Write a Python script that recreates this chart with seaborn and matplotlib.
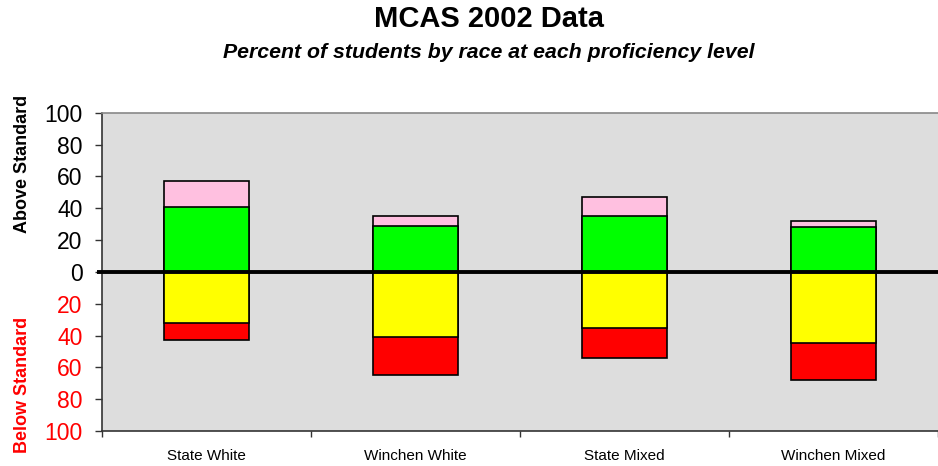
import matplotlib
matplotlib.use("Agg")
import matplotlib.pyplot as plt
import matplotlib.transforms as mtransforms
import seaborn as sns
import numpy as np
import pandas as pd

categories = ["State White", "Winchen White", "State Mixed", "Winchen Mixed"]
proficient = [41, 29, 35, 28]       # green
advanced = [16, 6, 12, 4]           # pink
needs_improvement = [32, 41, 35, 45]  # yellow
warning = [11, 24, 19, 23]          # red

sns.set_style("white")
plt.rcParams['font.family'] = ['Liberation Sans', 'DejaVu Sans']
plt.rcParams['text.color'] = 'black'
plt.rcParams['xtick.color'] = 'black'
plt.rcParams['ytick.color'] = 'black'

fig = plt.figure(figsize=(9.38, 4.66), dpi=100)
ax = fig.add_axes([0.1087, 0.0751, 0.8913, 0.683])
ax.set_facecolor("#DDDDDD")

above_total = [p + a for p, a in zip(proficient, advanced)]
below_total = [-(n + w) for n, w in zip(needs_improvement, warning)]
below_ni = [-n for n in needs_improvement]

bw = 0.41
kw = dict(width=bw, edgecolor="black", linewidth=1.2, ax=ax, saturation=1)
sns.barplot(x=categories, y=above_total, color="#FFC0E0", **kw)
sns.barplot(x=categories, y=proficient, color="#00FF00", **kw)
sns.barplot(x=categories, y=below_total, color="#FF0000", **kw)
sns.barplot(x=categories, y=below_ni, color="#FFFF00", **kw)

ax.set_xlim(-0.5, 3.5)
ax.set_ylim(-100, 100)

# zero line, extending slightly left of the axis
trans = mtransforms.blended_transform_factory(ax.transAxes, ax.transData)
ax.plot([-0.006, 1.0], [0, 0], color="black", lw=2.8, transform=trans,
        clip_on=False, zorder=5, solid_capstyle="butt")

yt = list(range(-100, 101, 20))
ax.set_yticks(yt)
ax.set_yticklabels([str(abs(v)) for v in yt], fontsize=16.5)
for lab, v in zip(ax.get_yticklabels(), yt):
    lab.set_color("red" if v < 0 else "black")
ax.tick_params(axis="y", which="major", direction="out", length=5, width=1,
               color="#333333", left=True, pad=9)

ax.set_xticks([-0.5, 0.5, 1.5, 2.5, 3.5])
ax.set_xticklabels([])
ax.set_xticks([0, 1, 2, 3], minor=True)
ax.set_xticklabels(categories, minor=True, fontsize=11)
ax.tick_params(axis="x", which="major", direction="out", length=4, width=1,
               color="#333333", bottom=True)
ax.tick_params(axis="x", which="minor", length=0, pad=13)
ax.set_xlabel("")

for side in ["left", "bottom"]:
    ax.spines[side].set_color("#333333")
    ax.spines[side].set_linewidth(1.2)
ax.spines["top"].set_color("#888888")
ax.spines["top"].set_linewidth(1.2)
ax.spines["right"].set_visible(False)

fig.text(0.024, 1 - 164 / 466, "Above Standard", rotation=90, ha="center",
         va="center", fontsize=13, fontweight="bold", color="black")
fig.text(0.024, 1 - 385 / 466, "Below Standard", rotation=90, ha="center",
         va="center", fontsize=13, fontweight="bold", color="red")

fig.text(0.521, 1 - 19 / 466, "MCAS 2002 Data", ha="center", va="center",
         fontsize=21, fontweight="bold", color="black")
fig.text(0.521, 1 - 52 / 466, "Percent of students by race at each proficiency level",
         ha="center", va="center", fontsize=15.3, fontweight="bold", style="italic",
         color="black")

fig.savefig("out.png", dpi=100)
